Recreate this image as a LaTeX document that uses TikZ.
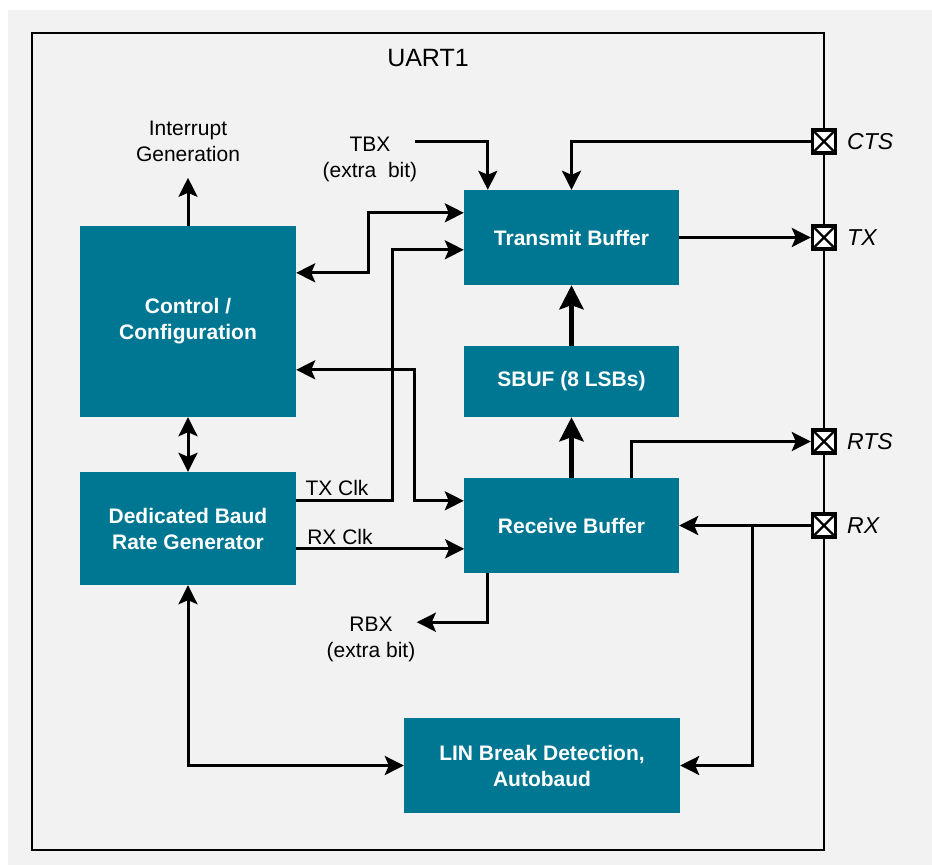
\documentclass[tikz,border=0pt]{standalone}
\usepackage{fontspec}
\setmainfont{Liberation Sans}
\usetikzlibrary{arrows.meta,calc}
\definecolor{teal1}{RGB}{0,119,146}
\definecolor{bggray}{RGB}{242,242,242}
\tikzset{
  blk/.style={fill=teal1,draw=none,text=white,font=\fontsize{21}{26}\selectfont\bfseries,align=center,inner sep=0pt},
  lbl/.style={font=\fontsize{21}{26}\selectfont,align=center,inner sep=0pt},
  pinlbl/.style={font=\fontsize{23}{27}\selectfont\itshape,anchor=west,inner sep=0pt},
  conn/.style={line width=3pt},
  arr/.style={conn,-{Stealth[length=19pt,width=19pt,inset=4pt]}},
  darr/.style={conn,{Stealth[length=19pt,width=19pt,inset=4pt]}-{Stealth[length=19pt,width=19pt,inset=4pt]}},
  thickarr/.style={line width=5.8pt,-{Stealth[length=24pt,width=24pt,inset=4pt]}},
  pinbox/.style={draw=black,line width=3.4pt,fill=white,minimum size=23pt,inner sep=0pt,
    path picture={\draw[line width=2.4pt] (path picture bounding box.north west) -- (path picture bounding box.south east)
      (path picture bounding box.north east) -- (path picture bounding box.south west);}},
}
\begin{document}
\begin{tikzpicture}[x=1pt,y=-1pt]
\useasboundingbox (0,0) rectangle (932,865);
\fill[white] (0,0) rectangle (932,865);
\fill[bggray] (8,10) rectangle (932,865);
\draw[line width=2.6pt] (32,33) rectangle (824,850);
\node[font=\fontsize{25}{30}\selectfont,inner sep=0pt] (title) at (428,58) {UART1};

% blocks
\node[blk,minimum width=216pt,minimum height=191pt] (ctrl) at (188,321.5) {Control /\\Configuration};
\node[blk,minimum width=216pt,minimum height=113pt] (baud) at (188,528.5) {Dedicated Baud\\Rate Generator};
\node[blk,minimum width=215pt,minimum height=95pt] (tx) at (571.5,237.5) {Transmit Buffer};
\node[blk,minimum width=215pt,minimum height=71pt] (sbuf) at (571.5,381.5) {SBUF (8 LSBs)};
\node[blk,minimum width=215pt,minimum height=95pt] (rx) at (571.5,525.5) {Receive Buffer};
\node[blk,minimum width=276pt,minimum height=95pt] (lin) at (542,765.5) {LIN Break Detection,\\Autobaud};

% pins
\node[pinbox] (cts) at (824,141.5) {};
\node[pinbox] (txp) at (824,237.5) {};
\node[pinbox] (rts) at (824,441.5) {};
\node[pinbox] (rxp) at (824,525.5) {};
\node[pinlbl] (ctsl) at (847,141.5) {CTS};
\node[pinlbl] (txl) at (847,237.5) {TX};
\node[pinlbl] (rtsl) at (847,441.5) {RTS};
\node[pinlbl] (rxl) at (847,525.5) {RX};

% labels
\node[lbl] (intr) at (188,141) {Interrupt\\Generation};
\node[lbl] (tbx) at (370,159) {TBX\\(extra~ bit)};
\node[lbl] (rbx) at (371,639) {RBX\\(extra bit)};
\node[lbl] (txclk) at (337,488) {TX Clk};
\node[lbl] (rxclk) at (340,537) {RX Clk};

% connectors
\draw[arr] (ctrl.north) -- ++(0,-48);
\coordinate (tbxs) at (415,141.5);
\draw[arr] (tbxs) -| ($(tx.north west)+(24,0)$);
\draw[arr] (cts.west) -| (tx.north);
\draw[arr] (tx.east) -- (txp.west);
\draw[darr] ($(ctrl.north east)+(0,47)$) -- ++(72,0) |- ($(tx.north west)+(0,23)$);
\draw[arr] ($(baud.north east)+(0,29)$) -- ++(96,0) |- ($(tx.north west)+(0,60)$);
\draw[darr] ($(rx.north west)+(0,23)$) -- ++(-49,0) |- ($(ctrl.north east)+(0,144)$);
\draw[arr] ($(baud.north east)+(0,77)$) -- ++(168,0);
\draw[darr] (ctrl.south) -- (baud.north);
\draw[thickarr] (rx.north) -- (sbuf.south);
\draw[thickarr] (sbuf.north) -- (tx.south);
\draw[arr] ($(rx.north west)+(167.5,0)$) |- (rts.west);
\draw[arr] (rxp.west) -- (rx.east);
\coordinate (rxbr) at (752,525.5);
\draw[arr] (rxbr) |- (lin.east);
\draw[arr] ($(rx.south west)+(24,0)$) |- ++(-71,49);
\draw[darr] (baud.south) |- (lin.west);
\end{tikzpicture}
\end{document}
